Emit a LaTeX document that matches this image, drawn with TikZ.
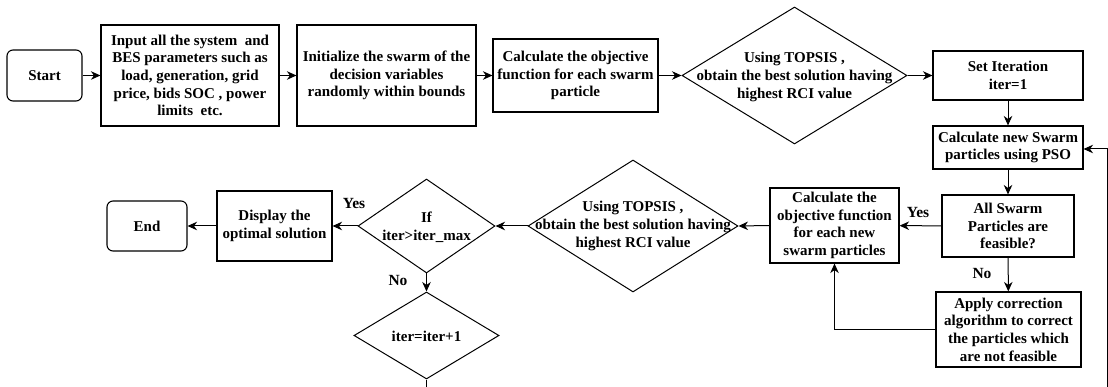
\documentclass[tikz,border=0pt]{standalone}
\usepackage{fontspec}
\setmainfont{Liberation Serif}
\usetikzlibrary{shapes.geometric,arrows.meta}
\begin{document}
\begin{tikzpicture}[x=1pt,y=-1pt,
  every node/.style={font=\fontsize{15}{17.6}\selectfont\bfseries, align=center, inner sep=0pt},
  box/.style={draw, line width=1.1pt, rectangle},
  term/.style={draw, line width=1.1pt, rectangle, rounded corners=6pt},
  dia/.style={draw, line width=1pt, diamond},
  lbl/.style={font=\fontsize{15.5}{17}\selectfont\bfseries},
  arr/.style={line width=1pt, -{Stealth[length=9.5pt,width=8.5pt,inset=3pt]}}
]
\useasboundingbox (0,0) rectangle (1108,387);

% top row
\node[term, minimum width=75pt, minimum height=51pt] (start) at (44.5,75.5) {Start};
\node[box, minimum width=178pt, minimum height=101pt] (input) at (190,75.5)
  {Input all the system\ \ and\\BES parameters such as\\load, generation, grid\\price, bids SOC , power\\limits\ \ etc.};
\node[box, minimum width=179pt, minimum height=101pt] (init) at (386.5,75.5)
  {Initialize the swarm of the\\decision variables\\randomly within bounds};
\node[box, minimum width=165pt, minimum height=73pt] (calc) at (575.5,75.5)
  {Calculate the objective\\function for each swarm\\particle};
\node[dia, minimum width=225pt, minimum height=137pt] (d1) at (794.5,75.5) {};
\node (d1t) at (794.5,77) {Using TOPSIS ,\\obtain the best solution having\\highest RCI value};
\node[box, minimum width=150pt, minimum height=49pt] (setit) at (1008,75.5)
  {Set Iteration\\iter=1};

% right column
\node[box, minimum width=150pt, minimum height=43pt] (newsw) at (1008,147.5)
  {Calculate new Swarm\\particles using PSO};
\node[box, minimum width=132pt, minimum height=62pt] (allsw) at (1008,226)
  {All Swarm\\Particles are\\feasible?};
\node[box, minimum width=145pt, minimum height=75pt] (apply) at (1008.5,329.5)
  {Apply correction\\algorithm to correct\\the particles which\\are not feasible};

% middle row
\node[box, minimum width=129pt, minimum height=75pt] (calcnew) at (834.5,225.5)
  {Calculate the\\objective function\\for each new\\swarm particles};
\node[dia, minimum width=210pt, minimum height=132pt] (d2) at (633,226) {};
\node (d2t) at (633,226) {Using TOPSIS ,\\obtain the best solution having\\highest RCI value};
\node[dia, minimum width=137pt, minimum height=94pt] (ifd) at (426.5,226) {};
\node (ifdt) at (426.5,227.5) {If\\iter>iter\_max};
\node[dia, minimum width=145pt, minimum height=87pt] (iterd) at (426.5,335.5) {};
\node (iterdt) at (426.5,336) {iter=iter+1};
\node[box, minimum width=115pt, minimum height=70pt] (display) at (274.5,226)
  {Display the\\optimal solution};
\node[term, minimum width=80pt, minimum height=50pt] (end) at (147,226) {End};

% labels
\node[lbl] (yes1) at (354,204) {Yes};
\node[lbl] (no1) at (398,281) {No};
\node[lbl] (yes2) at (918,213) {Yes};
\node[lbl] (no2) at (982,274) {No};

% loop coordinates
\coordinate (lb) at (426.5,405);
\coordinate (rb) at (1107.3,405);
\coordinate (rloop) at (1107.3,149);

% connectors
\draw[arr] (start) -- (input);
\draw[arr] (input) -- (init);
\draw[arr] (init) -- (calc);
\draw[arr] (calc) -- (d1.west);
\draw[arr] (d1.east) -- (setit);
\draw[arr] (setit) -- (newsw);
\draw[arr] (newsw) -- (allsw);
\draw[arr] (allsw) -- (calcnew);
\draw[arr] (allsw) -- (apply);
\draw[arr] (apply.west) -| (calcnew.south);
\draw[arr] (calcnew.west) -- (d2.east);
\draw[arr] (d2.west) -- (ifd.east);
\draw[arr] (ifd.west) -- (display);
\draw[arr] (display) -- (end);
\draw[arr] (ifd.south) -- (iterd.north);
\draw[arr] (iterd.south) -- (lb) -- (rb) -- (rloop) -- (newsw.east |- rloop);
\end{tikzpicture}
\end{document}
